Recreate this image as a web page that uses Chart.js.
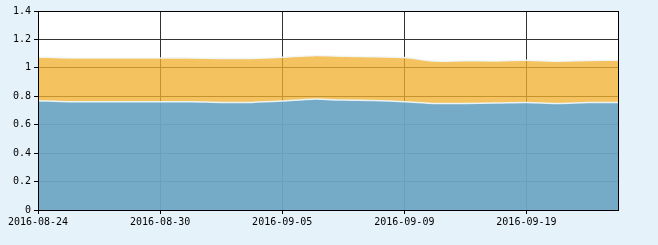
<!DOCTYPE html>
<html>
<head>
<meta charset="utf-8">
<script src="https://cdn.jsdelivr.net/npm/chart.js@4/dist/chart.umd.min.js"></script>
<style>
  html, body { margin: 0; padding: 0; background: #e6f2fa; }
  #wrap { width: 658px; height: 245px; position: relative; }
</style>
</head>
<body>
<div id="wrap"><canvas id="chart"></canvas></div>
<script>
// Data
const dates = [
  '2016-08-24', '2016-08-25', '2016-08-26', '2016-08-29', '2016-08-30',
  '2016-08-31', '2016-09-01', '2016-09-02', '2016-09-05', '2016-09-06',
  '2016-09-07', '2016-09-08', '2016-09-09', '2016-09-12', '2016-09-13',
  '2016-09-14', '2016-09-19', '2016-09-20', '2016-09-21', '2016-09-22'
];
const lowerValues = [
  0.769, 0.762, 0.762, 0.762, 0.762, 0.762, 0.757, 0.757, 0.766, 0.780,
  0.773, 0.770, 0.762, 0.750, 0.750, 0.752, 0.757, 0.750, 0.756, 0.757
];
const upperValues = [
  0.308, 0.308, 0.308, 0.308, 0.308, 0.308, 0.309, 0.309, 0.308, 0.306,
  0.309, 0.308, 0.311, 0.298, 0.300, 0.297, 0.297, 0.297, 0.296, 0.297
];
const yTicks = [0, 0.2, 0.4, 0.6, 0.8, 1, 1.2, 1.4];
const labelEvery = 4;

// White plot background + black frame
const framePlugin = {
  id: 'frame',
  beforeDraw(chart) {
    const { ctx, chartArea: a } = chart;
    ctx.save();
    ctx.fillStyle = '#ffffff';
    ctx.fillRect(a.left, a.top, a.right - a.left, a.bottom - a.top);
    ctx.restore();
  },
  afterDatasetsDraw(chart) {
    const { ctx, chartArea: a } = chart;
    ctx.save();
    ctx.strokeStyle = '#000000';
    ctx.lineWidth = 1;
    ctx.strokeRect(Math.round(a.left) + 0.5, Math.round(a.top) + 0.5,
      Math.round(a.right - a.left), Math.round(a.bottom - a.top));
    ctx.restore();
  }
};

const tickFont = { family: 'DejaVu Sans Mono', size: 10 };

new Chart(document.getElementById('chart'), {
  type: 'line',
  data: {
    labels: dates,
    datasets: [
      {
        data: lowerValues,
        fill: 'origin',
        backgroundColor: 'rgba(111, 166, 196, 0.95)',
        borderColor: 'rgba(240, 248, 252, 0.9)',
        borderWidth: 1.5,
        pointRadius: 0,
        tension: 0.3
      },
      {
        data: upperValues,
        fill: '-1',
        backgroundColor: 'rgba(241, 175, 47, 0.77)',
        borderColor: 'rgba(240, 248, 252, 0.9)',
        borderWidth: 1.5,
        pointRadius: 0,
        tension: 0.3
      }
    ]
  },
  options: {
    responsive: true,
    maintainAspectRatio: false,
    animation: false,
    layout: { padding: { left: 0, top: 11, right: 40, bottom: 0 } },
    plugins: {
      legend: { display: false },
      tooltip: { enabled: false }
    },
    scales: {
      x: {
        offset: false,
        afterFit(scale) { scale.height = 35; },
        border: { display: false },
        grid: {
          color: '#333333',
          tickColor: '#000000',
          tickLength: 4,
          lineWidth: 1
        },
        ticks: {
          autoSkip: false,
          maxRotation: 0,
          padding: 2,
          color: '#000000',
          font: tickFont,
          callback: (v, i) => (i % labelEvery === 0 ? dates[i] : null)
        }
      },
      y: {
        stacked: true,
        min: 0,
        max: 1.4,
        afterFit(scale) { scale.width = 38; },
        afterBuildTicks(scale) { scale.ticks = yTicks.map(v => ({ value: v })); },
        border: { display: false },
        grid: {
          color: '#333333',
          tickColor: '#000000',
          tickLength: 4,
          lineWidth: 1
        },
        ticks: {
          padding: 3,
          color: '#000000',
          font: tickFont,
          callback: v => String(Math.round(v * 10) / 10)
        }
      }
    }
  },
  plugins: [framePlugin]
});
</script>
</body>
</html>
